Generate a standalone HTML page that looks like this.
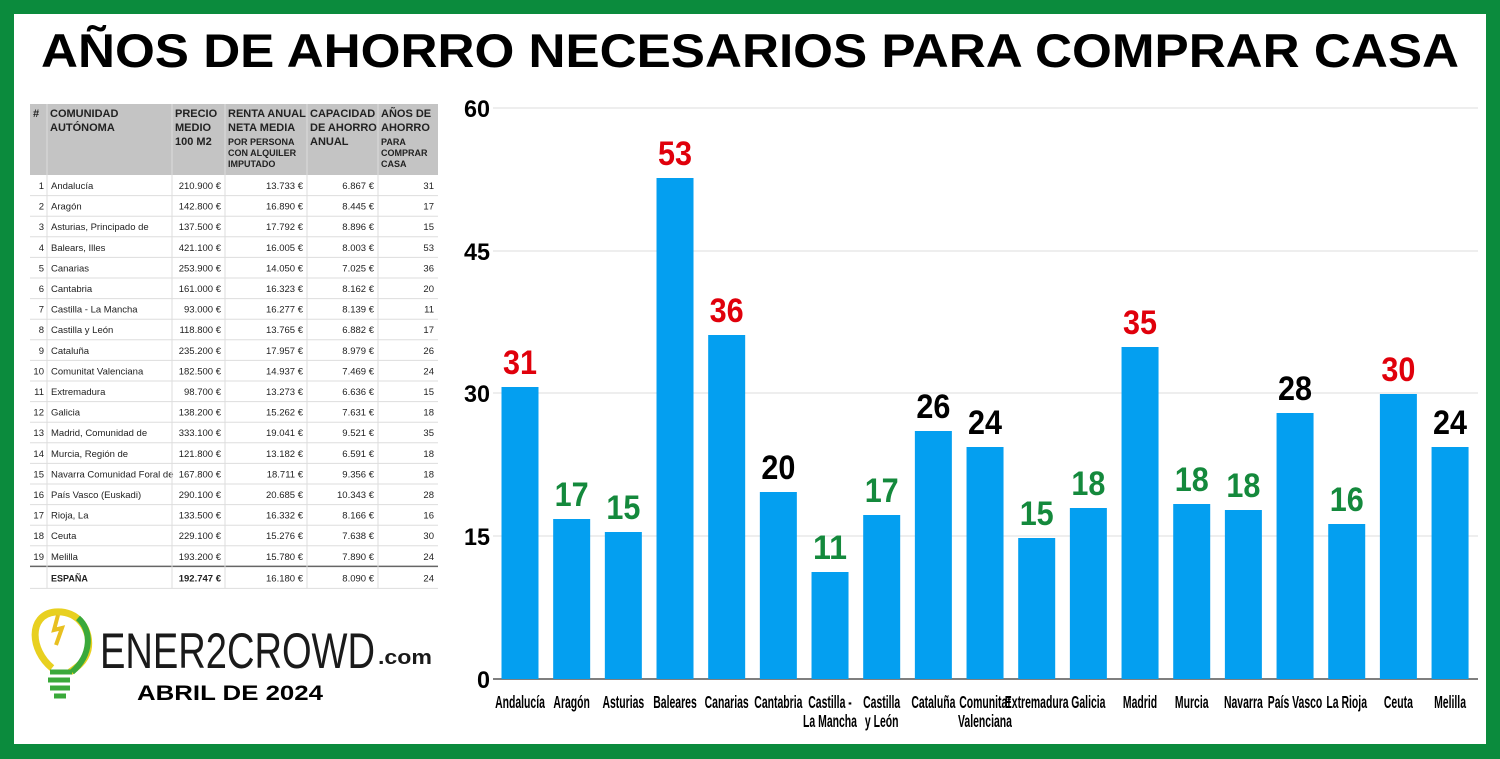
<!DOCTYPE html>
<html><head><meta charset="utf-8">
<style>
html,body{margin:0;padding:0;background:#fff;}
#wrap{width:1500px;height:759px;position:relative;overflow:hidden;background:#0b8b3d;}
svg{position:absolute;left:0;top:0;}
</style></head>
<body><div id="wrap">
<svg id="s" width="1500" height="759" xmlns="http://www.w3.org/2000/svg" font-family="Liberation Sans, sans-serif">
<rect x="14" y="14" width="1472" height="730" fill="#fff"/>
<text x="750" y="67" text-anchor="middle" font-size="47" font-weight="bold" textLength="1418" lengthAdjust="spacingAndGlyphs" fill="#000">AÑOS DE AHORRO NECESARIOS PARA COMPRAR CASA</text>
<g id="tbl"></g>
<g id="chart"></g>
<g>
<path d="M52 668 C30 650 28 615 55 612 C78 610 92 630 88 650 C85 662 76 668 70 672" fill="none" stroke="#e8d020" stroke-width="7"/>
<path d="M78 618 C92 630 92 655 72 672" fill="none" stroke="#3aa93a" stroke-width="6"/>
<path d="M50 672 L72 672 M48 680 L70 680 M50 688 L70 688 M54 696 L66 696" stroke="#3aa93a" stroke-width="5"/>
<path d="M58 615 L54 630 L62 628 L56 645" fill="none" stroke="#e8c020" stroke-width="4"/>
<text x="100" y="668" font-size="50" fill="#1a1a1a" textLength="275" lengthAdjust="spacingAndGlyphs">ENER2CROWD</text>
<text x="378" y="664" font-size="20" font-weight="bold" fill="#1a1a1a" textLength="54" lengthAdjust="spacingAndGlyphs">.com</text>
<text x="137" y="700" font-size="21" font-weight="bold" fill="#000" textLength="186" lengthAdjust="spacingAndGlyphs">ABRIL DE 2024</text>
</g>
</svg>
</div>
<script>
var NS="http://www.w3.org/2000/svg";
function el(p,t,a,txt){var e=document.createElementNS(NS,t);for(var k in a)e.setAttribute(k,a[k]);if(txt!=null)e.textContent=txt;p.appendChild(e);return e;}
var c=document.getElementById('chart');
var grid=[[108,'60'],[251,'45'],[393,'30'],[536,'15'],[679,'0']];
grid.forEach(function(g,i){
 el(c,'line',{x1:493,x2:1478,y1:g[0],y2:g[0],stroke:i==4?'#555':'#ddd','stroke-width':i==4?1.5:1});
 el(c,'text',{x:490,y:g[0]+9,'text-anchor':'end','font-size':24,'font-weight':'bold',fill:'#000',textLength:g[1].length*13,lengthAdjust:'spacingAndGlyphs'},g[1]);
});
var tops=[387,519,532,178,335,492,572,515,431,447,538,508,347,504,510,413,524,394,447];
var vals=['31','17','15','53','36','20','11','17','26','24','15','18','35','18','18','28','16','30','24'];
var R='#e0000b',G='#14893c',K='#000';
var cols=[R,G,G,R,R,K,G,G,K,K,G,G,R,G,G,K,G,R,K];
var names=[['Andalucía'],['Aragón'],['Asturias'],['Baleares'],['Canarias'],['Cantabria'],['Castilla -','La Mancha'],['Castilla','y León'],['Cataluña'],['Comunitat','Valenciana'],['Extremadura'],['Galicia'],['Madrid'],['Murcia'],['Navarra'],['País Vasco'],['La Rioja'],['Ceuta'],['Melilla']];
var SX=0.58;
for(var i=0;i<19;i++){
 var cx=520+i*51.67;
 el(c,'rect',{x:cx-18.5,y:tops[i],width:37,height:679-tops[i],fill:'#049ff0'});
 el(c,'text',{x:cx,y:tops[i]-13,'text-anchor':'middle','font-size':34,'font-weight':'bold',fill:cols[i],textLength:34,lengthAdjust:'spacingAndGlyphs'},vals[i]);
 names[i].forEach(function(n,j){
  el(c,'text',{x:cx/SX,y:708+j*19,transform:'scale('+SX+',1)','text-anchor':'middle','font-size':18,'font-weight':'bold',fill:'#000'},n);
 });
}
var t=document.getElementById('tbl');
var cx=[30,47,172,225,307,378,438];
el(t,'rect',{x:30,y:104,width:408,height:71,fill:'#c4c4c4'});
var hdr=[['#'],['COMUNIDAD','AUTÓNOMA'],['PRECIO','MEDIO','100 M2'],['RENTA ANUAL','NETA MEDIA'],['CAPACIDAD','DE AHORRO','ANUAL'],['AÑOS DE','AHORRO']];
hdr.forEach(function(h,j){h.forEach(function(s,k){el(t,'text',{x:cx[j]+3,y:117+k*14,'font-size':11,'font-weight':'bold',fill:'#222'},s);});});
['POR PERSONA','CON ALQUILER','IMPUTADO'].forEach(function(s,k){el(t,'text',{x:228,y:145+k*11,'font-size':9,'font-weight':'bold',fill:'#222'},s);});
['PARA','COMPRAR','CASA'].forEach(function(s,k){el(t,'text',{x:381,y:145+k*11,'font-size':9,'font-weight':'bold',fill:'#222'},s);});
var rows=[['Andalucía','210.900 €','13.733 €','6.867 €','31'],['Aragón','142.800 €','16.890 €','8.445 €','17'],['Asturias, Principado de','137.500 €','17.792 €','8.896 €','15'],['Balears, Illes','421.100 €','16.005 €','8.003 €','53'],['Canarias','253.900 €','14.050 €','7.025 €','36'],['Cantabria','161.000 €','16.323 €','8.162 €','20'],['Castilla - La Mancha','93.000 €','16.277 €','8.139 €','11'],['Castilla y León','118.800 €','13.765 €','6.882 €','17'],['Cataluña','235.200 €','17.957 €','8.979 €','26'],['Comunitat Valenciana','182.500 €','14.937 €','7.469 €','24'],['Extremadura','98.700 €','13.273 €','6.636 €','15'],['Galicia','138.200 €','15.262 €','7.631 €','18'],['Madrid, Comunidad de','333.100 €','19.041 €','9.521 €','35'],['Murcia, Región de','121.800 €','13.182 €','6.591 €','18'],['Navarra Comunidad Foral de','167.800 €','18.711 €','9.356 €','18'],['País Vasco (Euskadi)','290.100 €','20.685 €','10.343 €','28'],['Rioja, La','133.500 €','16.332 €','8.166 €','16'],['Ceuta','229.100 €','15.276 €','7.638 €','30'],['Melilla','193.200 €','15.780 €','7.890 €','24']];
var rh=20.6;
rows.forEach(function(r,i){
 var y=175+i*rh;
 el(t,'line',{x1:30,x2:438,y1:y+rh,y2:y+rh,stroke:'#ddd'});
 el(t,'text',{x:44,y:y+14,'text-anchor':'end','font-size':9.5,fill:'#222'},String(i+1));
 el(t,'text',{x:51,y:y+14,'font-size':9.5,fill:'#222'},r[0]);
 for(var j=1;j<5;j++) el(t,'text',{x:cx[j+2]-4,y:y+14,'text-anchor':'end','font-size':9.5,fill:'#222'},r[j]);
});
var ey=175+19*rh;
el(t,'line',{x1:30,x2:438,y1:ey,y2:ey,stroke:'#666','stroke-width':1.5});
el(t,'text',{x:51,y:ey+15,'font-size':9,'font-weight':'bold',fill:'#222'},'ESPAÑA');
['192.747 €','16.180 €','8.090 €','24'].forEach(function(s,j){el(t,'text',{x:cx[j+3]-4,y:ey+15,'text-anchor':'end','font-size':9.5,'font-weight':j==0?'bold':'normal',fill:'#222'},s);});
el(t,'line',{x1:30,x2:438,y1:ey+22,y2:ey+22,stroke:'#ddd'});
for(var j=1;j<6;j++) el(t,'line',{x1:cx[j],x2:cx[j],y1:104,y2:ey+22,stroke:'#ddd'});
</script>
</body></html>
